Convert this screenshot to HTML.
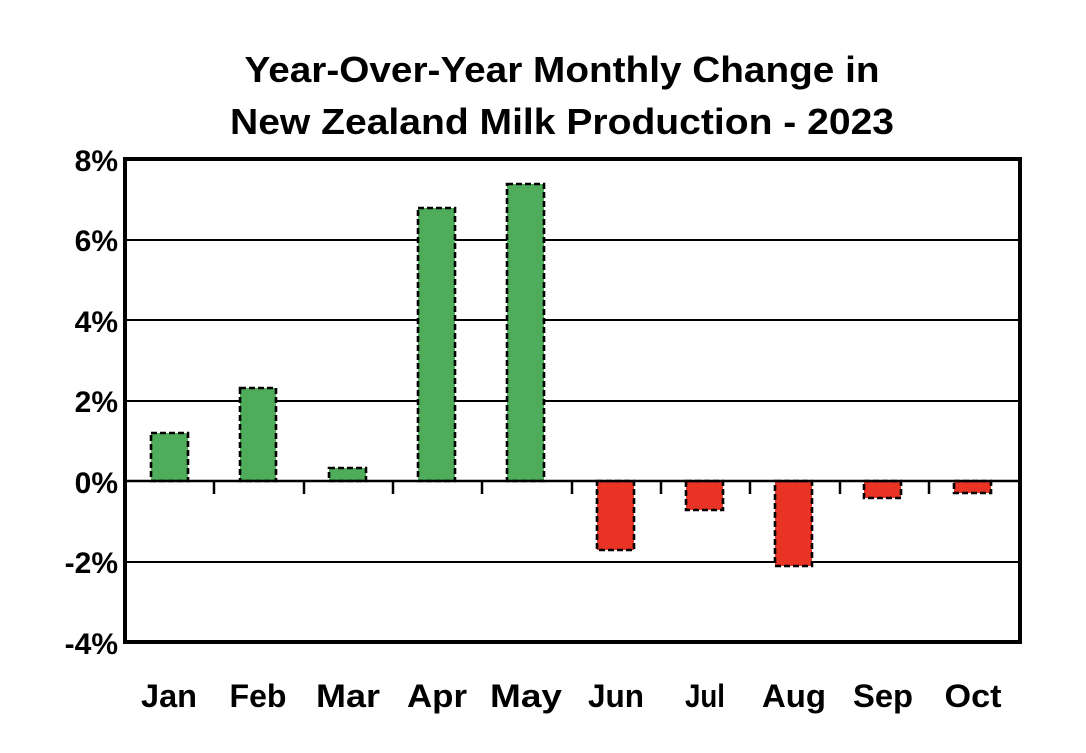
<!DOCTYPE html>
<html><head><style>body{margin:0;background:#fff}</style></head><body>
<svg width="1086" height="748" xmlns="http://www.w3.org/2000/svg" font-family="Liberation Sans, sans-serif" font-weight="bold">
<text x="562" y="82" font-size="36" text-anchor="middle" textLength="635" lengthAdjust="spacingAndGlyphs">Year-Over-Year Monthly Change in</text>
<text x="562" y="134" font-size="36" text-anchor="middle" textLength="664" lengthAdjust="spacingAndGlyphs">New Zealand Milk Production - 2023</text>
<g stroke="#000" stroke-width="2">
<line x1="125" y1="240" x2="1020" y2="240"/>
<line x1="125" y1="320" x2="1020" y2="320"/>
<line x1="125" y1="401" x2="1020" y2="401"/>
<line x1="125" y1="562" x2="1020" y2="562"/>
</g>
<g stroke="#000" stroke-width="2.6" stroke-dasharray="6,3">
<rect x="151" y="433" width="37" height="48" fill="#4fac5b"/>
<rect x="240" y="388" width="36" height="93" fill="#4fac5b"/>
<rect x="329" y="468" width="37" height="13" fill="#4fac5b"/>
<rect x="418" y="208" width="37" height="273" fill="#4fac5b"/>
<rect x="507" y="184" width="37" height="297" fill="#4fac5b"/>
<rect x="597" y="481" width="37" height="69" fill="#e83325"/>
<rect x="686" y="481" width="37" height="29" fill="#e83325"/>
<rect x="775" y="481" width="37" height="85" fill="#e83325"/>
<rect x="864" y="481" width="37" height="17" fill="#e83325"/>
<rect x="954" y="481" width="37" height="12" fill="#e83325"/>
</g>
<line x1="125" y1="481" x2="1020" y2="481" stroke="#000" stroke-width="2.5"/>
<g stroke="#000" stroke-width="2.5">
<line x1="214" y1="481" x2="214" y2="494"/><line x1="304" y1="481" x2="304" y2="494"/>
<line x1="393" y1="481" x2="393" y2="494"/><line x1="482" y1="481" x2="482" y2="494"/>
<line x1="572" y1="481" x2="572" y2="494"/><line x1="661" y1="481" x2="661" y2="494"/>
<line x1="750" y1="481" x2="750" y2="494"/><line x1="840" y1="481" x2="840" y2="494"/>
<line x1="929" y1="481" x2="929" y2="494"/>
</g>
<rect x="125" y="159" width="895" height="483" fill="none" stroke="#000" stroke-width="4"/>
<g font-size="30" text-anchor="end">
<text x="118" y="171">8%</text>
<text x="118" y="251">6%</text>
<text x="118" y="332">4%</text>
<text x="118" y="412">2%</text>
<text x="118" y="493">0%</text>
<text x="118" y="573">-2%</text>
<text x="118" y="654">-4%</text>
</g>
<g font-size="32" text-anchor="middle">
<text x="169" y="707" textLength="56" lengthAdjust="spacingAndGlyphs">Jan</text>
<text x="258" y="707" textLength="57" lengthAdjust="spacingAndGlyphs">Feb</text>
<text x="348" y="707" textLength="64" lengthAdjust="spacingAndGlyphs">Mar</text>
<text x="437" y="707" textLength="60" lengthAdjust="spacingAndGlyphs">Apr</text>
<text x="526" y="707" textLength="72" lengthAdjust="spacingAndGlyphs">May</text>
<text x="616" y="707" textLength="56" lengthAdjust="spacingAndGlyphs">Jun</text>
<text x="705" y="707" textLength="40" lengthAdjust="spacingAndGlyphs">Jul</text>
<text x="794" y="707" textLength="64" lengthAdjust="spacingAndGlyphs">Aug</text>
<text x="883" y="707" textLength="60" lengthAdjust="spacingAndGlyphs">Sep</text>
<text x="973" y="707" textLength="57" lengthAdjust="spacingAndGlyphs">Oct</text>
</g>
</svg>
</body></html>
